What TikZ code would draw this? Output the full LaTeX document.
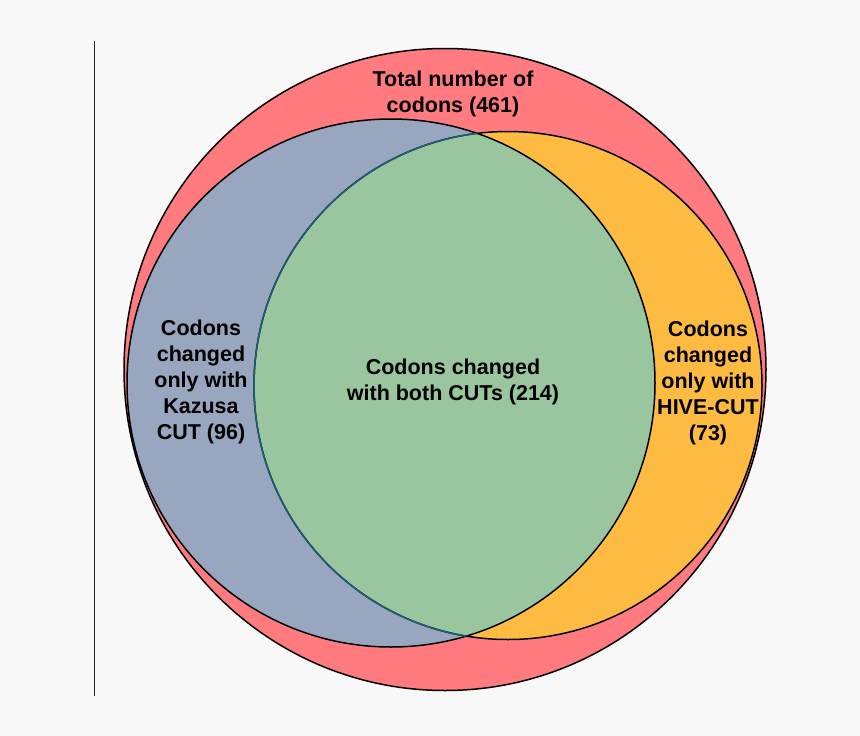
\documentclass[tikz,border=0pt]{standalone}
\usepackage{fontspec}
\setmainfont{Liberation Sans}
\usepackage{xcolor}
\definecolor{BgGray}{RGB}{248,248,248}
\definecolor{TotalRed}{RGB}{255,123,128}
\definecolor{KazBlue}{RGB}{153,166,192}
\definecolor{HiveYellow}{RGB}{253,188,65}
\definecolor{BothGreen}{RGB}{153,198,159}
\definecolor{EdgeTeal}{RGB}{30,95,120}

\begin{document}
\begin{tikzpicture}[
  x=1pt, y=-1pt,
  lbl/.style={font=\fontsize{21.5}{26}\selectfont\bfseries, align=center},
  ring/.style={draw=black, line width=1.5pt}
]
  \useasboundingbox[fill=BgGray] (0,0) rectangle (860,736);

  % left rule
  \coordinate (ruletop) at (94,41);
  \coordinate (rulebot) at (94,696);
  \draw[line width=1pt, black!85] (ruletop) -- (rulebot);

  % circle centres
  \coordinate (total) at (445,369.5);
  \coordinate (kaz) at (391,383);
  \coordinate (hive) at (508,385.5);

  % fills
  \fill[TotalRed] (total) circle (321pt);
  \fill[KazBlue] (kaz) circle (264pt);
  \fill[HiveYellow] (hive) circle (254pt);
  \begin{scope}
    \clip (kaz) circle (264pt);
    \fill[BothGreen] (hive) circle (254pt);
  \end{scope}

  % outlines
  \draw[ring] (total) circle (321pt);
  \draw[ring] (kaz) circle (264pt);
  \draw[ring] (hive) circle (254pt);
  \begin{scope}
    \clip (kaz) circle (264pt);
    \draw[ring, draw=EdgeTeal] (hive) circle (254pt);
  \end{scope}

  % labels
  \node[lbl] (totallbl) at (453,94) {Total number of\\codons (461)};
  \node[lbl] (kazlbl) at (201,382) {Codons\\changed\\only with\\Kazusa\\CUT (96)};
  \node[lbl] (bothlbl) at (453,382) {Codons changed\\with both CUTs (214)};
  \node[lbl] (hivelbl) at (708,383) {Codons\\changed\\only with\\HIVE-CUT\\(73)};
\end{tikzpicture}
\end{document}
